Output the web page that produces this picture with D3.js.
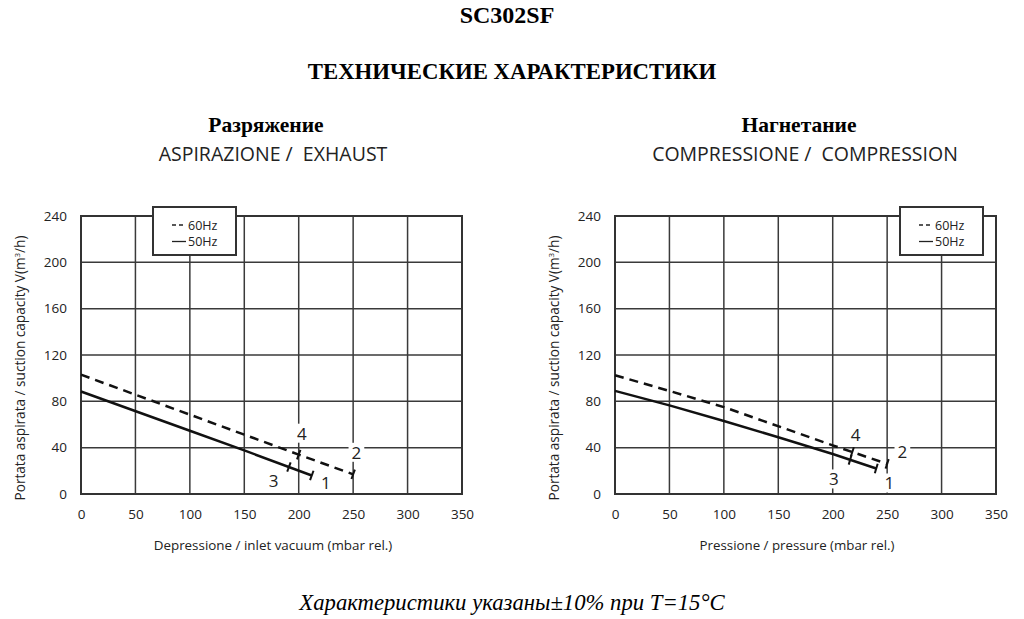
<!DOCTYPE html>
<html>
<head>
<meta charset="utf-8">
<script src="https://cdn.jsdelivr.net/npm/d3@7"></script>
<style>
  body { margin: 0; background: #fff; }
  svg { display: block; }
  .sans { font-family: "Open Sans", "Noto Sans", sans-serif; fill: #222; }
  .serif { font-family: "Liberation Serif", "Times New Roman", serif; fill: #000; }
</style>
</head>
<body>
<div id="chart"></div>
<script>
// axis ticks
var xTicks = [0, 50, 100, 150, 200, 250, 300, 350];
var yTicks = [0, 40, 80, 120, 160, 200, 240];

// left panel: exhaust (vacuum)
var leftDashed = [[0, 103], [100, 68.5], [200, 34], [250, 17]];
var leftSolid = [[0, 88.5], [100, 54.6], [150, 37.6], [212, 16]];
var leftMarks60 = [200, 250];
var leftMarks50 = [191, 212];
var leftLabels = [["1", 225, 10], ["2", 253, 36], ["3", 177, 11.5], ["4", 203, 52.5]];

// right panel: compression
var rightDashed = [[0, 102.5], [50, 89], [100, 75], [200, 42], [250, 26]];
var rightSolid = [[0, 89], [50, 76.5], [100, 63], [150, 49], [200, 34.5], [240, 22]];
var rightMarks60 = [218, 250];
var rightMarks50 = [216, 240];
var rightLabels = [["1", 252, 9.5], ["2", 264, 37], ["3", 201, 13], ["4", 221, 51]];

var legendItems = ["60Hz", "50Hz"];

var W = 1024, H = 619;
var svg = d3.select("#chart").append("svg")
    .attr("width", W)
    .attr("height", H);

// page titles
svg.append("text").attr("class", "serif")
    .attr("x", 507).attr("y", 23)
    .attr("text-anchor", "middle")
    .style("font-size", "24px").style("font-weight", "bold")
    .text("SC302SF");

svg.append("text").attr("class", "serif")
    .attr("x", 512).attr("y", 79)
    .attr("text-anchor", "middle")
    .style("font-size", "22.8px").style("font-weight", "bold")
    .text("ТЕХНИЧЕСКИЕ ХАРАКТЕРИСТИКИ");

svg.append("text").attr("class", "serif")
    .attr("x", 512).attr("y", 610)
    .attr("text-anchor", "middle")
    .style("font-size", "22.7px").style("font-style", "italic")
    .text("Характеристики указаны±10% при Т=15°С");

function drawPanel(opt) {
    var x = d3.scaleLinear().domain([0, 350]).range([opt.left, opt.left + 381]);
    var y = d3.scaleLinear().domain([0, 240]).range([494, 216]);

    var g = svg.append("g");

    // headings
    g.append("text").attr("class", "serif")
        .attr("x", opt.headX).attr("y", 132)
        .attr("text-anchor", "middle")
        .style("font-size", "21.5px").style("font-weight", "bold")
        .text(opt.title);
    g.append("text").attr("class", "sans")
        .attr("x", opt.subX).attr("y", 161)
        .attr("text-anchor", "middle")
        .style("font-size", "19.5px")
        .style("white-space", "pre")
        .text(opt.subtitle);

    // grid
    g.selectAll(".vg").data(xTicks).enter().append("line")
        .attr("x1", d => x(d)).attr("x2", d => x(d))
        .attr("y1", y(0)).attr("y2", y(240))
        .attr("stroke", "#3a3a3a").attr("stroke-width", 1.5);
    g.selectAll(".hg").data(yTicks).enter().append("line")
        .attr("x1", x(0)).attr("x2", x(350))
        .attr("y1", d => y(d)).attr("y2", d => y(d))
        .attr("stroke", "#3a3a3a").attr("stroke-width", 1.5);
    g.append("rect")
        .attr("x", x(0)).attr("y", y(240))
        .attr("width", x(350) - x(0)).attr("height", y(0) - y(240))
        .attr("fill", "none").attr("stroke", "#333").attr("stroke-width", 2);

    // axes (labels only)
    var xAxis = g.append("g")
        .attr("transform", "translate(0," + y(0) + ")")
        .call(d3.axisBottom(x).tickValues(xTicks).tickSize(0).tickPadding(15));
    var yAxis = g.append("g")
        .attr("transform", "translate(" + (x(0) - 14) + ",0)")
        .call(d3.axisLeft(y).tickValues(yTicks).tickSize(0).tickPadding(0));
    [xAxis, yAxis].forEach(function (a) {
        a.select(".domain").remove();
        a.selectAll("text")
            .attr("class", "sans")
            .style("font-size", "13.5px")
            .style("font-family", "'Open Sans', sans-serif")
            .attr("fill", "#222");
    });

    g.append("text").attr("class", "sans")
        .attr("x", opt.xTitleX).attr("y", 550)
        .attr("text-anchor", "middle")
        .style("font-size", opt.xTitleSize)
        .text(opt.xTitle);
    g.append("text").attr("class", "sans")
        .attr("transform", "translate(" + (opt.left - 56) + ",368) rotate(-90)")
        .attr("text-anchor", "middle")
        .style("font-size", "13.6px")
        .html("Portata aspirata / suction capacity V(m<tspan dy='-5' style='font-size:8px'>3</tspan><tspan dy='5'>/h)</tspan>");

    // curves
    var line = d3.line().x(d => x(d[0])).y(d => y(d[1]));
    g.append("path").datum(opt.dashed)
        .attr("d", line).attr("fill", "none")
        .attr("stroke", "#111").attr("stroke-width", 2.5)
        .attr("stroke-dasharray", "9,6");
    g.append("path").datum(opt.solid)
        .attr("d", line).attr("fill", "none")
        .attr("stroke", "#111").attr("stroke-width", 2.5);

    // limit marks, perpendicular to the curve
    function marks(series, xs) {
        var interp = d3.scaleLinear()
            .domain(series.map(d => d[0]))
            .range(series.map(d => d[1]));
        var last = series[series.length - 1], first = series[0];
        var dx = x(last[0]) - x(first[0]), dy = y(last[1]) - y(first[1]);
        var len = Math.sqrt(dx * dx + dy * dy);
        var nx = -dy / len * 5, ny = dx / len * 5;
        xs.forEach(function (v) {
            var px = x(v), py = y(interp(v));
            g.append("line")
                .attr("x1", px - nx).attr("y1", py - ny)
                .attr("x2", px + nx).attr("y2", py + ny)
                .attr("stroke", "#111").attr("stroke-width", 2);
        });
    }
    marks(opt.dashed, opt.marks60);
    marks(opt.solid, opt.marks50);

    // point labels with white backing
    opt.labels.forEach(function (l) {
        var t = g.append("text").attr("class", "sans")
            .attr("x", x(l[1])).attr("y", y(l[2]))
            .attr("text-anchor", "middle")
            .attr("dominant-baseline", "central")
            .style("font-size", "17px")
            .attr("fill", "#333")
            .text(l[0]);
        var b = t.node().getBBox();
        g.insert("rect", function () { return t.node(); })
            .attr("x", b.x - 3).attr("y", b.y + 2)
            .attr("width", b.width + 6).attr("height", b.height - 4)
            .attr("fill", "#fff");
    });

    // legend
    var lg = g.append("g").attr("transform", "translate(" + opt.legX + ",207)");
    lg.append("rect")
        .attr("width", 83).attr("height", 48)
        .attr("fill", "#fff").attr("stroke", "#333").attr("stroke-width", 2);
    legendItems.forEach(function (name, i) {
        var yy = 18 + i * 16.5;
        lg.append("line")
            .attr("x1", 19).attr("x2", 33)
            .attr("y1", yy).attr("y2", yy)
            .attr("stroke", "#222").attr("stroke-width", 1.3)
            .attr("stroke-dasharray", i === 0 ? "4,3" : null);
        lg.append("text").attr("class", "sans")
            .attr("x", 35).attr("y", yy + 4.5)
            .style("font-size", "12.5px")
            .text(name);
    });
}

drawPanel({
    left: 81, headX: 266, subX: 273, xTitleX: 273, xTitleSize: "13.4px",
    title: "Разряжение", subtitle: "ASPIRAZIONE /  EXHAUST",
    xTitle: "Depressione / inlet vacuum (mbar rel.)",
    dashed: leftDashed, solid: leftSolid,
    marks60: leftMarks60, marks50: leftMarks50,
    labels: leftLabels, legX: 153
});

drawPanel({
    left: 615, headX: 799, subX: 805, xTitleX: 797, xTitleSize: "13.3px",
    title: "Нагнетание", subtitle: "COMPRESSIONE /  COMPRESSION",
    xTitle: "Pressione / pressure (mbar rel.)",
    dashed: rightDashed, solid: rightSolid,
    marks60: rightMarks60, marks50: rightMarks50,
    labels: rightLabels, legX: 900
});
</script>
</body>
</html>
